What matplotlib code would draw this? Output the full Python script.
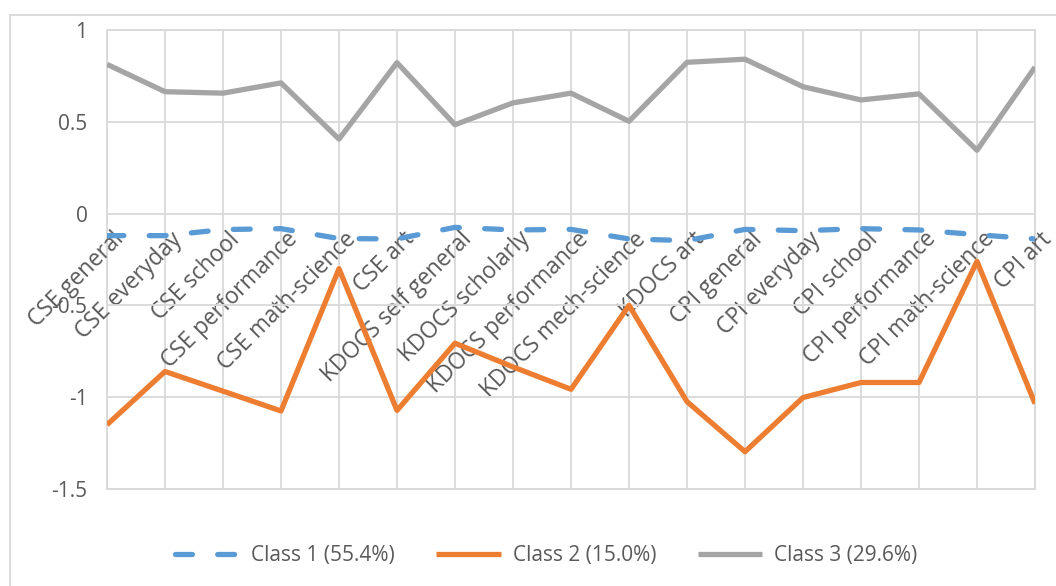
import matplotlib
matplotlib.use("Agg")
import matplotlib.pyplot as plt
from matplotlib.lines import Line2D
from matplotlib.patches import Rectangle
from matplotlib.transforms import ScaledTranslation

categories = ["CSE general", "CSE everyday", "CSE school", "CSE performance",
              "CSE math-science", "CSE art", "KDOCS self general", "KDOCS scholarly",
              "KDOCS performance", "KDOCS mech-science", "KDOCS art", "CPI general",
              "CPI everyday", "CPI school", "CPI performance", "CPI math-science", "CPI art"]
class1 = [-0.12, -0.12, -0.087, -0.082, -0.136, -0.138, -0.075, -0.089, -0.086,
          -0.138, -0.147, -0.086, -0.093, -0.082, -0.089, -0.115, -0.138]
class2 = [-1.15, -0.86, -0.967, -1.075, -0.30, -1.072, -0.706, -0.835, -0.957,
          -0.50, -1.024, -1.297, -1.002, -0.92, -0.92, -0.26, -1.035]
class3 = [0.813, 0.664, 0.656, 0.712, 0.406, 0.822, 0.484, 0.603, 0.656,
          0.503, 0.824, 0.841, 0.691, 0.619, 0.652, 0.345, 0.798]
series_labels = ["Class 1 (55.4%)", "Class 2 (15.0%)", "Class 3 (29.6%)"]
yticks = [-1.5, -1, -0.5, 0, 0.5, 1]
ytick_labels = ["-1.5", "-1", "-0.5", "0", "0.5", "1"]

FONT = "Open Sans"
TXT = "#595959"
GRID = "#D9D9D9"
FS = 15

plt.rcParams['font.family'] = [FONT, 'DejaVu Sans']

W, H = 1056, 586
fig = plt.figure(figsize=(W / 100, H / 100), dpi=100)
ax = fig.add_axes([107 / W, 1 - 489 / H, (1035 - 107) / W, (489 - 30) / H])

x = list(range(len(categories)))
LW = 3.8
ax.plot(x, class1, color="#5B9BD5", lw=LW, linestyle=(0, (3.2, 4.8)),
        dash_capstyle="round", solid_joinstyle="round", label=series_labels[0])
ax.plot(x, class2, color="#ED7D31", lw=LW, solid_joinstyle="round",
        solid_capstyle="butt", label=series_labels[1])
ax.plot(x, class3, color="#A5A5A5", lw=LW, solid_joinstyle="round",
        solid_capstyle="butt", label=series_labels[2])

ax.set_xlim(0, len(categories) - 1)
ax.set_ylim(-1.5, 1)
ax.tick_params(axis="both", length=0)
ax.tick_params(axis="y", pad=14, labelsize=FS, labelcolor=TXT)
ax.tick_params(axis="x", pad=10, labelsize=16.3, labelcolor=TXT)
ax.grid(True, color=GRID, lw=1.3, zorder=0)
ax.set_axisbelow(True)
for s in ax.spines.values():
    s.set_visible(False)
ax.spines["bottom"].set_position(("data", 0))
ax.add_patch(Rectangle((0, 0), 1, 1, transform=ax.transAxes, fill=False,
                       edgecolor=GRID, lw=1.3, clip_on=False, zorder=0.5))

ax.set_yticks(yticks)
ax.set_yticklabels(ytick_labels)
ax.set_xticks(x)
ax.set_xticklabels(categories, rotation=45, ha="right", rotation_mode="anchor")
for lab in ax.get_xticklabels():
    lab.set_transform(lab.get_transform() + ScaledTranslation(5 / 100, 0, fig.dpi_scale_trans))

# chart-area border (left and top visible)
fig.add_artist(Line2D([10 / W, 10 / W], [0, 1 - 15 / H], color=GRID, lw=1.3))
fig.add_artist(Line2D([10 / W, 1], [1 - 15 / H, 1 - 15 / H], color=GRID, lw=1.3))

leg = fig.legend(loc="center", bbox_to_anchor=(546 / W, 1 - 556 / H), ncol=3,
                 frameon=False, handlelength=3.1, handletextpad=0.55,
                 columnspacing=2.0, fontsize=FS)
for t in leg.get_texts():
    t.set_color(TXT)

fig.savefig("out.png", dpi=100, facecolor="white")
